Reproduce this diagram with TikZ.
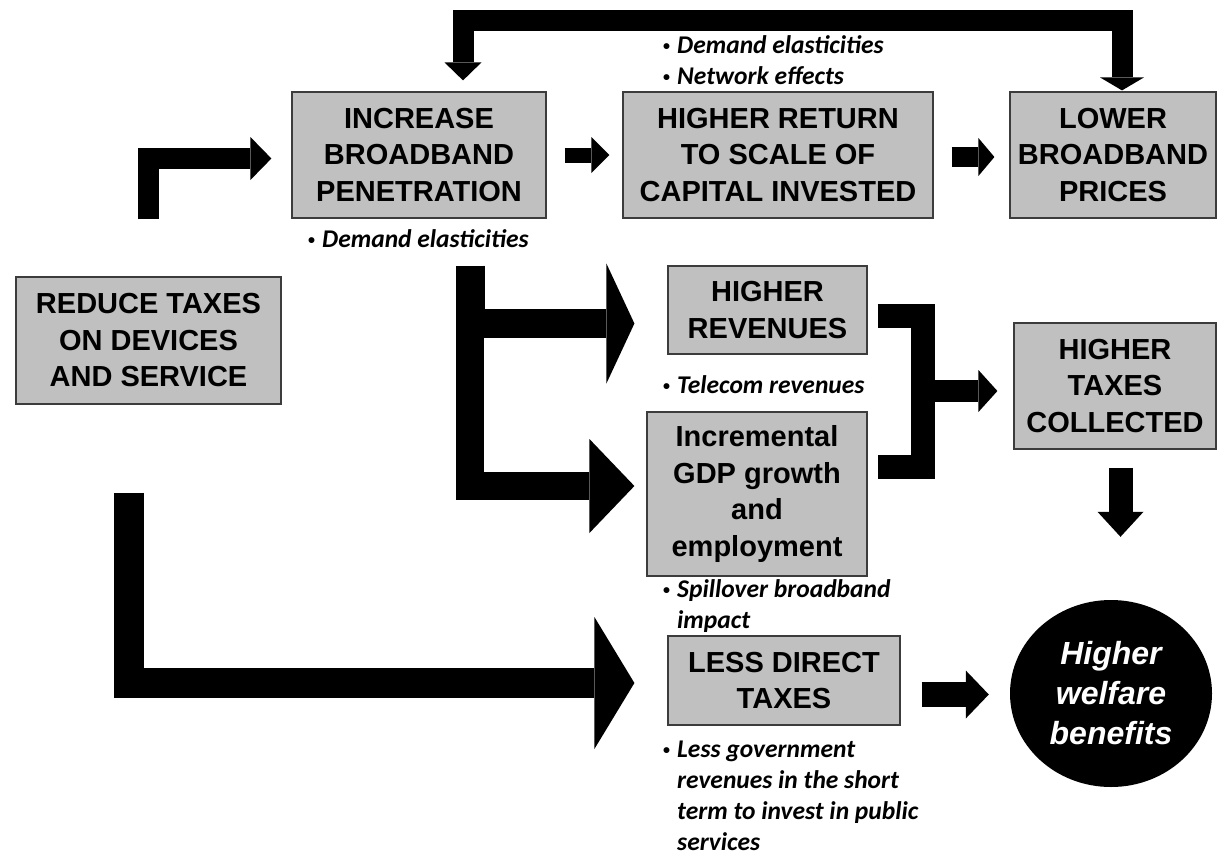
\documentclass[tikz,border=0pt]{standalone}
\usepackage{fontspec}
\setmainfont{Liberation Sans}
\newfontfamily\notefont{Carlito}
\usetikzlibrary{arrows.meta,calc,shapes.geometric}
\definecolor{boxgray}{HTML}{C0C0C0}
\definecolor{boxline}{HTML}{3C3C3C}
\newcommand\bul{\makebox[14pt][l]{\raisebox{2.5pt}{\fontsize{14}{14}\selectfont\upshape •}}}
\begin{document}
\begin{tikzpicture}[x=1pt,y=-1pt,
  box/.style={draw=boxline,line width=1.2pt,fill=boxgray,align=center,inner sep=0pt,
    font=\fontsize{29}{36.5}\selectfont\bfseries},
  note/.style={anchor=base west,inner sep=0pt,font=\notefont\fontsize{25.5}{31}\selectfont\bfseries\itshape},
  blockarrow/.style={draw=black,line cap=butt,line join=miter}
]
\useasboundingbox (0,0) rectangle (1218,854);

% boxes
\node[box,minimum width=254pt,minimum height=126pt] (incr) at (419,155) {INCREASE\\BROADBAND\\PENETRATION};
\node[box,minimum width=310pt,minimum height=126pt] (ret) at (778,155) {HIGHER RETURN\\TO SCALE OF\\CAPITAL INVESTED};
\node[box,minimum width=206pt,minimum height=126pt] (lower) at (1113,155) {LOWER\\BROADBAND\\PRICES};
\node[box,minimum width=265pt,minimum height=127pt] (reduce) at (148.5,340.5) {REDUCE TAXES\\ON DEVICES\\AND SERVICE};
\node[box,minimum width=199pt,minimum height=88pt] (rev) at (767.5,310) {HIGHER\\REVENUES};
\node[box,minimum width=220pt,minimum height=164pt] (gdp) at (757,494) {Incremental\\GDP growth\\and\\employment};
\node[box,minimum width=202pt,minimum height=126pt] (coll) at (1115,386) {HIGHER\\TAXES\\COLLECTED};
\node[box,minimum width=232pt,minimum height=89pt] (less) at (784,680.5) {LESS DIRECT\\TAXES};
\node[ellipse,fill=black,minimum width=202pt,minimum height=187pt,inner sep=0pt,align=center,
  text=white,font=\fontsize{32}{40}\selectfont\bfseries\itshape] (welfare) at (1111,693.5) {Higher\\welfare\\benefits};

% notes
\node[note] (n1) at (308,247) {\bul Demand elasticities};
\node[note] (n2) at (663,53) {\begin{tabular}[t]{@{}l@{}l@{}}\bul&Demand elasticities\\\bul&Network effects\end{tabular}};
\node[note] (n3) at (663,393) {\bul Telecom revenues};
\node[note] (n4) at (663,597) {\begin{tabular}[t]{@{}l@{}l@{}}\bul&Spillover broadband\\&impact\end{tabular}};
\node[note] (n5) at (663,757) {\begin{tabular}[t]{@{}l@{}l@{}}\bul&Less government\\&revenues in the short\\&term to invest in public\\&services\end{tabular}};

% arrows
\draw[blockarrow,line width=21pt,-{Triangle[length=21pt,width=43pt,line width=0pt]}]
  ($(reduce.north)+(0,-57)$) |- ($(incr.west)+(-20,3.5)$);
\draw[blockarrow,line width=15pt,-{Triangle[length=18pt,width=36pt,line width=0pt]}]
  ($(incr.east)+(18,0)$) -- ($(ret.west)+(-13,0)$);
\draw[blockarrow,line width=20pt,-{Triangle[length=16pt,width=38pt,line width=0pt]}]
  ($(ret.east)+(18,2)$) -- ($(lower.west)+(-15,2)$);
\draw[blockarrow,line width=21pt,{Triangle[length=18pt,width=37pt,line width=0pt]}-{Triangle[length=13pt,width=44pt,line width=0pt]}]
  ($(incr.north)+(44,-11)$) -- ++(0,-59.5) -| ($(lower.north)+(9,-1)$);
\draw[blockarrow,line width=29pt,-{Triangle[length=28pt,width=120pt,line width=0pt]}]
  ($(incr.south)+(51,47)$) |- ($(rev.west)+(-33,13.5)$);
\draw[blockarrow,line width=28pt,-{Triangle[length=45pt,width=94pt,line width=0pt]}]
  ($(incr.south)+(51,47)$) |- ($(gdp.west)+(-12,-8)$);
\draw[blockarrow,line width=30pt,-{Triangle[length=40pt,width=132pt,line width=0pt]}]
  ($(reduce.south)+(-19.5,88)$) |- ($(less.west)+(-33,2.5)$);
\draw[blockarrow,line width=24pt]
  ($(rev.east)+(10,5.5)$) -- ++(45,0) |- ($(gdp.east)+(10,-27.5)$);
\draw[blockarrow,line width=22pt,-{Triangle[length=19pt,width=42pt,line width=0pt]}]
  ($(rev.east)+(55,81)$) -- ($(coll.west)+(-16,5)$);
\draw[blockarrow,line width=24pt,-{Triangle[length=25pt,width=46pt,line width=0pt]}]
  ($(coll.south)+(5.5,18)$) -- ($(welfare.north)+(9.5,-63)$);
\draw[blockarrow,line width=25pt,-{Triangle[length=23pt,width=48pt,line width=0pt]}]
  ($(less.east)+(21,14)$) -- ($(welfare.west)+(-21,1)$);
\end{tikzpicture}
\end{document}
